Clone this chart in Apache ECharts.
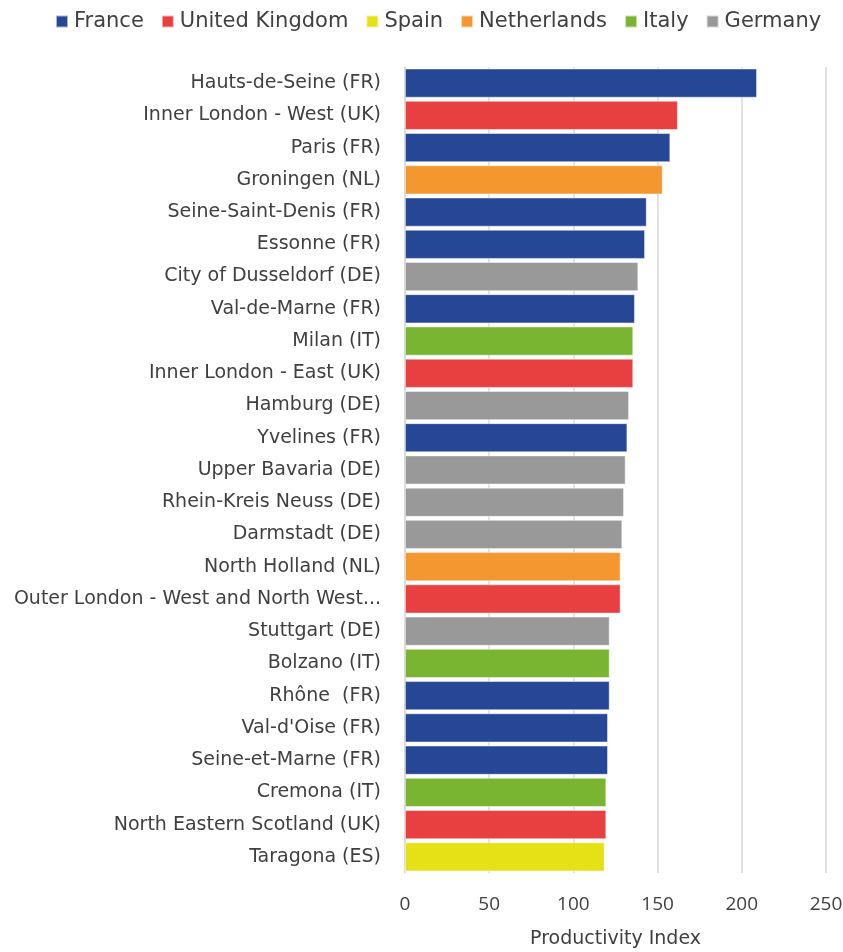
<!DOCTYPE html>
<html>
<head>
<meta charset="utf-8">
<script src="https://cdn.jsdelivr.net/npm/echarts@6/dist/echarts.min.js"></script>
<style>
  html, body { margin: 0; padding: 0; background: #ffffff; }
  #chart { width: 843px; height: 952px; }
</style>
</head>
<body>
<div id="chart"></div>
<script>
// Regions ranked by productivity index, top to bottom
const regions = [
  'Hauts-de-Seine (FR)',
  'Inner London - West (UK)',
  'Paris (FR)',
  'Groningen (NL)',
  'Seine-Saint-Denis (FR)',
  'Essonne (FR)',
  'City of Dusseldorf (DE)',
  'Val-de-Marne (FR)',
  'Milan (IT)',
  'Inner London - East (UK)',
  'Hamburg (DE)',
  'Yvelines (FR)',
  'Upper Bavaria (DE)',
  'Rhein-Kreis Neuss (DE)',
  'Darmstadt (DE)',
  'North Holland (NL)',
  'Outer London - West and North West...',
  'Stuttgart (DE)',
  'Bolzano (IT)',
  'Rhône  (FR)',
  "Val-d'Oise (FR)",
  'Seine-et-Marne (FR)',
  'Cremona (IT)',
  'North Eastern Scotland (UK)',
  'Taragona (ES)'
];

const productivity = [
  209, 162, 157.5, 153, 143.5, 142.5, 138.5, 136.5, 135.5, 135.5,
  133, 132, 131, 130, 129, 128, 128, 121.5, 121.5, 121.5,
  120.5, 120.5, 119.5, 119.5, 118.5
];

const regionCountry = [
  'France', 'United Kingdom', 'France', 'Netherlands', 'France', 'France',
  'Germany', 'France', 'Italy', 'United Kingdom', 'Germany', 'France',
  'Germany', 'Germany', 'Germany', 'Netherlands', 'United Kingdom', 'Germany',
  'Italy', 'France', 'France', 'France', 'Italy', 'United Kingdom', 'Spain'
];

const countries = ['France', 'United Kingdom', 'Spain', 'Netherlands', 'Italy', 'Germany'];
const countryColors = ['#264796', '#e83f40', '#e6e017', '#f5972f', '#79b531', '#999999'];

const xTicks = { min: 0, max: 250, interval: 50 };

const textColor = '#404040';
const wideFont = 'DejaVu Sans, sans-serif';
const numFont = 'Open Sans, Noto Sans, sans-serif';

// One series per country; values only where the region belongs to it, stacked so bars share a row
const series = countries.map((c, ci) => ({
  name: c,
  type: 'bar',
  stack: 'regions',
  barCategoryGap: '10%',
  itemStyle: { color: countryColors[ci], borderColor: 'rgba(255,255,255,0.6)', borderWidth: 0.8 },
  data: productivity.map((v, i) => regionCountry[i] === c ? v : '-')
}));

const chart = echarts.init(document.getElementById('chart'), null, { renderer: 'canvas' });
chart.setOption({
  animation: false,
  backgroundColor: '#ffffff',
  color: countryColors,
  legend: {
    data: countries,
    top: 6,
    left: 50,
    itemWidth: 12,
    itemHeight: 12,
    itemGap: 17,
    icon: 'rect',
    textStyle: { color: textColor, fontSize: 21, fontFamily: wideFont, padding: [0, 0, 0, 1] }
  },
  grid: { left: 405, right: 17, top: 67, bottom: 79, containLabel: false, outerBoundsMode: 'none' },
  xAxis: {
    type: 'value',
    min: xTicks.min,
    max: xTicks.max,
    interval: xTicks.interval,
    name: 'Productivity Index',
    nameLocation: 'middle',
    nameGap: 57,
    nameTextStyle: { color: textColor, fontSize: 19, fontFamily: wideFont },
    axisLine: { show: false },
    axisTick: { show: false },
    axisLabel: { color: textColor, fontSize: 19, margin: 22, fontFamily: numFont },
    splitLine: { show: true, lineStyle: { color: '#d9d9d9', width: 1.5 } }
  },
  yAxis: {
    type: 'category',
    inverse: true,
    data: regions,
    axisLine: { show: true, lineStyle: { color: '#d9d9d9', width: 1.5 } },
    axisTick: { show: false },
    axisLabel: { color: textColor, fontSize: 19, margin: 24, fontFamily: wideFont }
  },
  series: series
});
</script>
</body>
</html>
